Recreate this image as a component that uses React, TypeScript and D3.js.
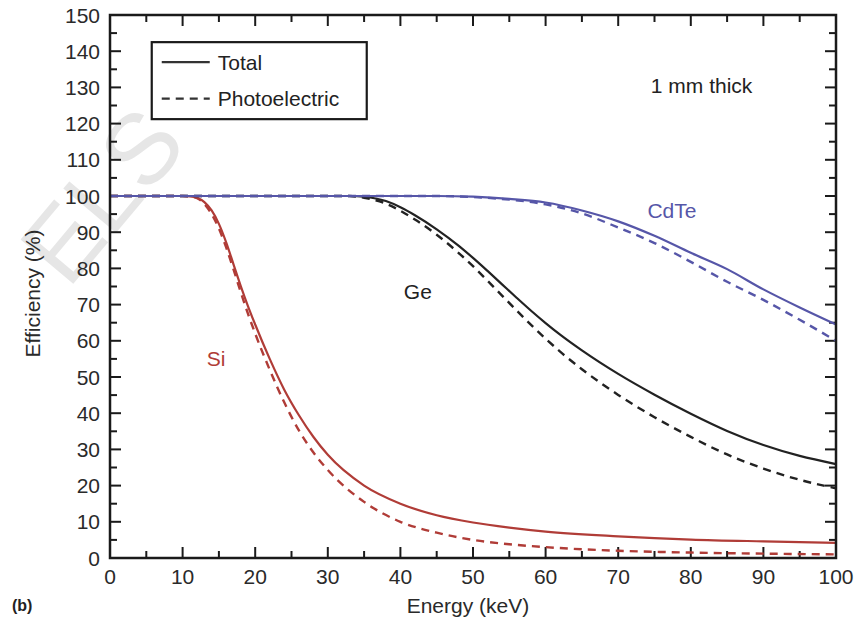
import React, { useEffect, useRef } from "react"
import * as d3 from "d3"

const WIDTH = 858
const HEIGHT = 627
const FONT = "'Liberation Sans', Arial, Helvetica, sans-serif"

// Si, 1 mm
const siEnergy = [0, 10, 11, 12, 13, 14, 15, 16, 17, 18, 19, 20, 22, 24, 26, 28, 30, 35, 40, 45, 50, 55, 60, 70, 80, 90, 100]
const siTotal = [100, 100, 99.9, 99.5, 98.3, 96, 92.3, 87.2, 81.2, 75.2, 69.6, 64.5, 55, 46.5, 39.5, 33.5, 28.5, 20, 15, 11.8, 9.8, 8.4, 7.3, 6, 5.1, 4.6, 4.2]
const siPhoto = [100, 100, 99.9, 99.4, 97.8, 95, 91, 85.8, 79.8, 73.5, 67.5, 62, 52, 43, 35.3, 29.2, 24.3, 15.5, 10, 7, 5, 3.8, 3, 2, 1.5, 1.2, 1.0]

// Ge, 1 mm
const geEnergy = [0, 30, 33, 35, 38, 40, 42, 45, 48, 50, 52, 54, 56, 58, 60, 62, 65, 70, 75, 80, 85, 90, 95, 100]
const geTotal = [100, 100, 100, 99.8, 98.6, 96.9, 94.7, 90.8, 86.3, 82.9, 79.3, 75.6, 71.9, 68.3, 64.9, 61.7, 57.35, 50.85, 45.1, 39.85, 35.1, 31.2, 28.2, 25.95]
const gePhoto = [100, 100, 100, 99.5, 97.9, 95.9, 93.5, 89.3, 84.3, 80.6, 76.6, 72.5, 68.4, 64.4, 60.6, 57, 52.15, 45.05, 38.9, 33.45, 28.6, 24.7, 21.6, 19.25]

// CdTe, 1 mm
const cdteEnergy = [0, 45, 50, 55, 60, 65, 70, 75, 80, 85, 90, 95, 100]
const cdteTotal = [100, 100, 99.8, 99.2, 98.2, 96, 93, 89, 84.3, 79.8, 74.2, 69.2, 64.5]
const cdtePhoto = [100, 100, 99.7, 99, 97.7, 95.2, 91.3, 87, 81.8, 76.3, 71.3, 65.8, 60]

const materials = [
	{ name: "Si", energy: siEnergy, total: siTotal, photo: siPhoto, color: "#b03c37", labelE: 14.6, labelY: 55 },
	{ name: "Ge", energy: geEnergy, total: geTotal, photo: gePhoto, color: "#222222", labelE: 42.4, labelY: 73.5 },
	{ name: "CdTe", energy: cdteEnergy, total: cdteTotal, photo: cdtePhoto, color: "#5656a8", labelE: 77.4, labelY: 95.9 },
]

const xTicks = [0, 10, 20, 30, 40, 50, 60, 70, 80, 90, 100]
const yTicks = [0, 10, 20, 30, 40, 50, 60, 70, 80, 90, 100, 110, 120, 130, 140, 150]
const xMinorTicks = d3.range(5, 100, 10)
const yMinorTicks = d3.range(5, 150, 10)

const App = () => {
	const svgRef = useRef(null)

	useEffect(() => {
		const svg = d3.select(svgRef.current)
		svg.selectAll("*").remove()

		const margin = { top: 15, right: 22, bottom: 69, left: 110 }
		const width = WIDTH - margin.left - margin.right
		const height = HEIGHT - margin.top - margin.bottom

		// faint publisher watermark behind the chart
		svg.append("text")
			.attr("transform", "translate(68,290) rotate(-50)")
			.attr("font-family", FONT)
			.attr("font-size", 100)
			.attr("fill", "#e6e6e6")
			.text("ELS")

		const g = svg.append("g").attr("transform", `translate(${margin.left},${margin.top})`)

		const xScale = d3.scaleLinear().domain([0, 100]).range([0, width])
		const yScale = d3.scaleLinear().domain([0, 150]).range([height, 0])

		const axisColor = "#1a1a1a"
		const major = 11
		const minor = 7

		// ticks, inward on all four sides
		const tickG = g.append("g").attr("stroke", axisColor).attr("stroke-width", 2)
		xTicks.concat(xMinorTicks).forEach((v) => {
			const len = xTicks.includes(v) ? major : minor
			const x = xScale(v)
			tickG.append("line").attr("x1", x).attr("x2", x).attr("y1", height).attr("y2", height - len)
			tickG.append("line").attr("x1", x).attr("x2", x).attr("y1", 0).attr("y2", len)
		})
		yTicks.concat(yMinorTicks).forEach((v) => {
			const len = yTicks.includes(v) ? major : minor
			const y = yScale(v)
			tickG.append("line").attr("x1", 0).attr("x2", len).attr("y1", y).attr("y2", y)
			tickG.append("line").attr("x1", width).attr("x2", width - len).attr("y1", y).attr("y2", y)
		})

		// tick labels
		g.append("g")
			.selectAll("text")
			.data(xTicks)
			.join("text")
			.attr("x", (d) => xScale(d))
			.attr("y", height + 26)
			.attr("text-anchor", "middle")
			.attr("font-family", FONT)
			.attr("font-size", 21)
			.attr("fill", "#2a2a2a")
			.text((d) => d)

		g.append("g")
			.selectAll("text")
			.data(yTicks)
			.join("text")
			.attr("x", -10)
			.attr("y", (d) => yScale(d))
			.attr("dy", "0.36em")
			.attr("text-anchor", "end")
			.attr("font-family", FONT)
			.attr("font-size", 21)
			.attr("fill", "#2a2a2a")
			.text((d) => d)

		// curves
		const line = d3.line()
			.x((d) => xScale(d[0]))
			.y((d) => yScale(d[1]))
			.curve(d3.curveMonotoneX)

		materials.forEach((m) => {
			const totalPts = m.energy.map((e, i) => [e, m.total[i]])
			const photoPts = m.energy.map((e, i) => [e, m.photo[i]])
			g.append("path")
				.datum(photoPts)
				.attr("fill", "none")
				.attr("stroke", m.color)
				.attr("stroke-width", 2.4)
				.attr("stroke-dasharray", "8,6")
				.attr("d", line)
			g.append("path")
				.datum(totalPts)
				.attr("fill", "none")
				.attr("stroke", m.color)
				.attr("stroke-width", 2.2)
				.attr("d", line)
			g.append("text")
				.attr("x", xScale(m.labelE))
				.attr("y", yScale(m.labelY))
				.attr("dy", "0.36em")
				.attr("text-anchor", "middle")
				.attr("font-family", FONT)
				.attr("font-size", 21)
				.attr("fill", m.color)
				.text(m.name)
		})

		// frame
		g.append("rect")
			.attr("width", width)
			.attr("height", height)
			.attr("fill", "none")
			.attr("stroke", axisColor)
			.attr("stroke-width", 2.5)

		// legend
		const legend = g.append("g").attr("transform", `translate(${xScale(5.75)},${yScale(142.5)})`)
		legend.append("rect")
			.attr("width", 215)
			.attr("height", 77)
			.attr("fill", "#fff")
			.attr("stroke", axisColor)
			.attr("stroke-width", 2.2)
		const legendItems = [
			{ label: "Total", dash: null },
			{ label: "Photoelectric", dash: "8,6" },
		]
		legendItems.forEach((item, i) => {
			const y = 20 + i * 36.5
			legend.append("line")
				.attr("x1", 10)
				.attr("x2", 58)
				.attr("y1", y)
				.attr("y2", y)
				.attr("stroke", "#333")
				.attr("stroke-width", 2.4)
				.attr("stroke-dasharray", item.dash)
			legend.append("text")
				.attr("x", 66)
				.attr("y", y)
				.attr("dy", "0.36em")
				.attr("font-family", FONT)
				.attr("font-size", 21)
				.attr("fill", "#222")
				.text(item.label)
		})

		g.append("text")
			.attr("x", xScale(74.5))
			.attr("y", yScale(130.5))
			.attr("dy", "0.36em")
			.attr("font-family", FONT)
			.attr("font-size", 21)
			.attr("fill", "#222")
			.text("1 mm thick")

		// axis titles
		svg.append("text")
			.attr("x", margin.left + xScale(49.3))
			.attr("y", 613)
			.attr("text-anchor", "middle")
			.attr("font-family", FONT)
			.attr("font-size", 21)
			.attr("fill", "#2a2a2a")
			.text("Energy (keV)")

		svg.append("text")
			.attr("transform", `translate(40,${margin.top + height / 2 + 7}) rotate(-90)`)
			.attr("text-anchor", "middle")
			.attr("font-family", FONT)
			.attr("font-size", 21)
			.attr("fill", "#2a2a2a")
			.text("Efficiency (%)")

		svg.append("text")
			.attr("x", 12)
			.attr("y", 611)
			.attr("font-family", FONT)
			.attr("font-size", 16)
			.attr("font-weight", "bold")
			.attr("fill", "#222")
			.text("(b)")
	}, [])

	return (
		<svg
			ref={svgRef}
			width={WIDTH}
			height={HEIGHT}
			style={{ position: "absolute", left: 0, top: 0, background: "#fff" }}
		></svg>
	)
}

export default App
